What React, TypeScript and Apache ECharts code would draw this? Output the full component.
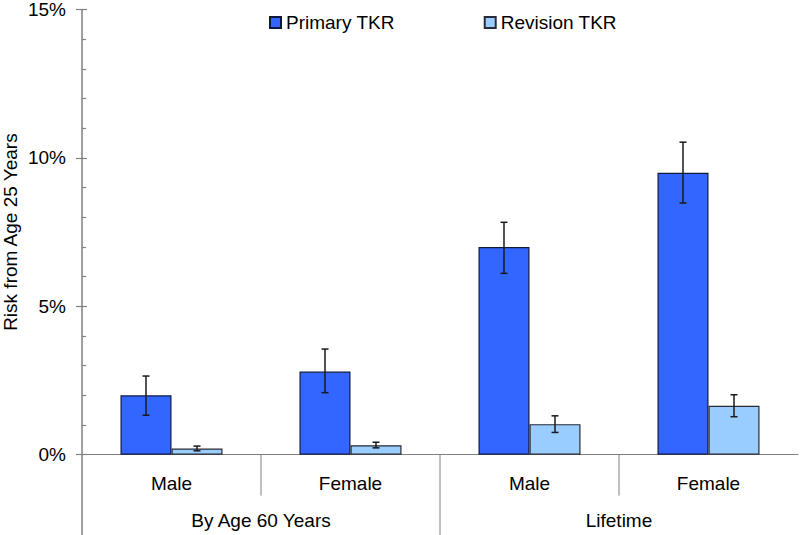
import React, { useEffect, useRef } from "react";
import * as echarts from "echarts";

const subCategories = ["Male", "Female", "Male", "Female"];
const groupCategories = ["By Age 60 Years", "Lifetime"];
const yTicks = [0, 5, 10, 15];

const primaryValues = [2.0, 2.8, 7.0, 9.5];
const primaryLow = [1.33, 2.09, 6.11, 8.48];
const primaryHigh = [2.65, 3.56, 7.83, 10.53];

const revisionValues = [0.21, 0.32, 1.03, 1.65];
const revisionLow = [0.13, 0.23, 0.75, 1.28];
const revisionHigh = [0.29, 0.42, 1.31, 2.02];

const FONT = "'Liberation Sans', Arial, sans-serif";
const AXIS_COLOR = "#808080";
const BAR_FRACTION = 0.285;

function errorSeries(name: string, low: number[], high: number[], side: number) {
  return {
    type: "custom",
    name: name + " error",
    xAxisIndex: 0,
    yAxisIndex: 0,
    silent: true,
    z: 10,
    encode: { x: 0, y: [1, 2] },
    data: low.map((l, i) => [i, l, high[i]]),
    renderItem: (params: any, api: any) => {
      const idx = api.value(0);
      const lo = api.coord([idx, api.value(1)]);
      const hi = api.coord([idx, api.value(2)]);
      const bw = api.size([1, 0])[0];
      const x = lo[0] + (side * bw * BAR_FRACTION) / 2;
      const cap = 3.5;
      const style = { stroke: "#1a1a1a", lineWidth: 1.5 };
      return {
        type: "group",
        children: [
          { type: "line", shape: { x1: x, y1: lo[1], x2: x, y2: hi[1] }, style },
          { type: "line", shape: { x1: x - cap, y1: lo[1], x2: x + cap, y2: lo[1] }, style },
          { type: "line", shape: { x1: x - cap, y1: hi[1], x2: x + cap, y2: hi[1] }, style },
        ],
      };
    },
  };
}

export default function App() {
  const ref = useRef<HTMLDivElement>(null);

  useEffect(() => {
    document.body.style.margin = "0";
    if (!ref.current) return;
    const chart = echarts.init(ref.current, null, { renderer: "svg" });
    const yMin = yTicks[0];
    const yMax = yTicks[yTicks.length - 1];
    const yInterval = yTicks[1] - yTicks[0];

    const option: any = {
      animation: false,
      textStyle: { fontFamily: FONT },
      grid: {
        left: 82,
        right: 2,
        top: 9.5,
        bottom: 80.3,
        containLabel: false,
        outerBoundsMode: "none",
      },
      legend: {
        top: 13,
        left: 269,
        padding: 0,
        itemWidth: 11,
        itemHeight: 11,
        itemGap: 89,
        icon: "rect",
        textStyle: { fontSize: 19, color: "#000", fontFamily: FONT },
        data: ["Primary TKR", "Revision TKR"],
      },
      xAxis: [
        {
          type: "category",
          data: subCategories,
          position: "bottom",
          axisLine: { show: true, lineStyle: { color: AXIS_COLOR, width: 1 } },
          axisTick: { show: false },
          axisLabel: { fontSize: 19, color: "#000", margin: 19, interval: 0, fontFamily: FONT },
          splitLine: { show: false },
        },
        {
          type: "category",
          data: groupCategories,
          position: "bottom",
          offset: 0,
          axisLine: { show: false },
          axisTick: { show: false },
          axisLabel: { fontSize: 19, color: "#000", margin: 56, interval: 0, fontFamily: FONT },
          splitLine: { show: false },
        },
      ],
      yAxis: [
        {
          type: "value",
          position: "left",
          min: yMin,
          max: yMax,
          interval: yInterval,
          name: "Risk from Age 25 Years",
          nameLocation: "middle",
          nameGap: 62,
          nameMoveOverlap: false,
          nameTextStyle: { fontSize: 19, color: "#000", fontFamily: FONT },
          axisLine: { show: true, lineStyle: { color: AXIS_COLOR, width: 1.5 } },
          axisTick: { show: true, inside: false, length: 6, lineStyle: { color: AXIS_COLOR, width: 1.2 } },
          axisLabel: {
            fontSize: 19,
            color: "#000",
            margin: 16,
            fontFamily: FONT,
            formatter: (v: number) => v + "%",
          },
          splitLine: { show: false },
        },
        {
          type: "value",
          position: "left",
          offset: 0,
          min: yMin,
          max: yMax,
          interval: yInterval,
          axisLine: { show: false },
          axisTick: { show: true, inside: true, length: 5, lineStyle: { color: AXIS_COLOR, width: 1.2 } },
          minorTick: { show: true, splitNumber: 5, length: 4, lineStyle: { color: AXIS_COLOR, width: 1.2 } },
          axisLabel: { show: false },
          splitLine: { show: false },
        },
      ],
      series: [
        {
          name: "Primary TKR",
          type: "bar",
          xAxisIndex: 0,
          yAxisIndex: 0,
          data: primaryValues,
          barWidth: BAR_FRACTION * 100 + "%",
          barGap: "0%",
          itemStyle: { color: "#3366FF", borderColor: "#101840", borderWidth: 1.2 },
        },
        {
          name: "Revision TKR",
          type: "bar",
          xAxisIndex: 0,
          yAxisIndex: 0,
          data: revisionValues,
          barWidth: BAR_FRACTION * 100 + "%",
          barGap: "0%",
          itemStyle: { color: "#99CCFF", borderColor: "#2a2a35", borderWidth: 1.2 },
        },
        errorSeries("Primary TKR", primaryLow, primaryHigh, -1),
        errorSeries("Revision TKR", revisionLow, revisionHigh, 1),
      ],
    };
    chart.setOption(option);

    // Category divider lines below the axis, placed through the library's own scales
    const c0 = chart.convertToPixel({ xAxisIndex: 0 }, 0) as number;
    const c1 = chart.convertToPixel({ xAxisIndex: 0 }, 1) as number;
    const bw = c1 - c0;
    const yZero = chart.convertToPixel({ yAxisIndex: 0 }, 0) as number;
    const height = 535;
    const lines: any[] = [];
    for (let i = 0; i < subCategories.length; i++) {
      const x = c0 - bw / 2 + i * bw;
      const isGroupStart = i % 2 === 0;
      lines.push({
        type: "line",
        shape: { x1: x, y1: yZero, x2: x, y2: isGroupStart ? height : yZero + 41 },
        style: { stroke: AXIS_COLOR, lineWidth: isGroupStart && i === 0 ? 1.5 : 1 },
        silent: true,
      });
    }
    chart.setOption({ graphic: lines });

    return () => chart.dispose();
  }, []);

  return <div ref={ref} style={{ width: 800, height: 535 }} />;
}
